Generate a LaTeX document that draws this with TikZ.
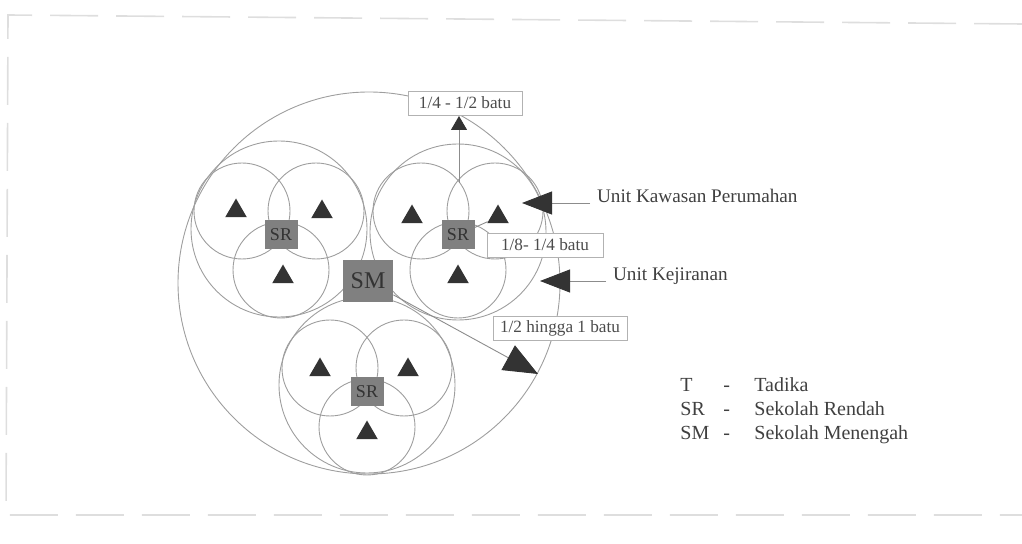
\documentclass[tikz,border=0pt]{standalone}
\usepackage{fontspec}
\setmainfont{Liberation Serif}
\usetikzlibrary{arrows.meta,shapes.geometric}

\begin{document}
\begin{tikzpicture}[x=0.5pt,y=-0.5pt]

	\tikzset{ring/.style = {draw=black!38, line width=0.45pt}}
	\tikzset{tadika/.style = {regular polygon, regular polygon sides=3, fill=black!80, inner sep=0pt, minimum size=12.5pt}}
	\tikzset{sekolah/.style = {shape=rectangle, fill=black!50, text=black!80, inner sep=0pt}}
	\tikzset{rendah/.style = {sekolah, minimum width=16.5pt, minimum height=14.5pt, font=\fontsize{9}{10}\selectfont}}
	\tikzset{menengah/.style = {sekolah, minimum width=25pt, minimum height=21pt, font=\fontsize{12}{13}\selectfont}}
	\tikzset{jarak/.style = {shape=rectangle, draw=black!30, fill=white, text=black!70, font=\fontsize{8.6}{10}\selectfont, minimum height=12pt, inner sep=2pt}}
	\tikzset{unit/.style = {anchor=base west, text=black!75, font=\fontsize{9.6}{11}\selectfont}}
	\tikzset{garis/.style = {draw=black!45, line width=0.45pt}}
	\tikzset{panah/.style = {garis, -{Triangle[length=15pt, width=11.5pt, color=black!80]}}}

	\useasboundingbox (0,0) rectangle (1022,544);
	\draw[black!13, line width=0.8pt, dash pattern=on 24pt off 9pt] (1022,24) -- (8,15) -- (6,515) -- (1022,515);

	% bulatan besar
	\draw[ring] (369,283) circle (95.5pt);

	% unit kejiranan
	\draw[ring] (279,229) circle (44pt);
	\draw[ring] (458,232) circle (44pt);
	\draw[ring] (367,385) circle (44pt);

	% unit kawasan perumahan
	\draw[ring] (242,211) circle (24pt);
	\draw[ring] (316,211) circle (24pt);
	\draw[ring] (281,270) circle (24pt);
	\draw[ring] (421,211) circle (24pt);
	\draw[ring] (495,211) circle (24pt);
	\draw[ring] (458,270) circle (24pt);
	\draw[ring] (330,368) circle (24pt);
	\draw[ring] (404,368) circle (24pt);
	\draw[ring] (367,427) circle (24pt);

	\node[rendah] (sr1) at (281,235) {SR};
	\node[rendah] (sr2) at (458,235) {SR};
	\node[rendah] (sr3) at (367,392) {SR};
	\node[menengah] (sm) at (368,281) {SM};

	\node[tadika] (t11) at (236,211) {};
	\node[tadika] (t12) at (322,212) {};
	\node[tadika] (t13) at (283,277) {};
	\node[tadika] (t21) at (412,217) {};
	\node[tadika] (t22) at (498,217) {};
	\node[tadika] (t23) at (458,277) {};
	\node[tadika] (t31) at (320,370) {};
	\node[tadika] (t32) at (408,370) {};
	\node[tadika] (t33) at (367,433) {};

	\node[jarak, minimum width=57pt] (suku) at (465,103) {1/4 - 1/2 batu};
	\node[jarak, minimum width=58pt] (lapan) at (545,245) {1/8- 1/4 batu};
	\node[jarak, minimum width=67pt] (separuh) at (560,328) {1/2 hingga 1 batu};

	\node[unit] (kawasan) at (590,203) {Unit Kawasan Perumahan};
	\node[unit] (kejiranan) at (606,281) {Unit Kejiranan};

	\coordinate (simpang) at (459,183);
	\coordinate (hujung1) at (459,116);
	\coordinate (hujung2) at (522,203);
	\coordinate (hujung3) at (540,281);
	\coordinate (hujung4) at (538,374);

	\draw[garis, -{Triangle[length=7pt, width=8pt, color=black!80]}] (simpang) -- (hujung1);
	\draw[garis] (sr2) -- (t22);
	\draw[panah] (kawasan.base west) -- (hujung2);
	\draw[panah] (kejiranan.base west) -- (hujung3);
	\draw[panah, -{Triangle[length=17pt, width=14pt, color=black!80]}] (sm) -- (hujung4);

	\node[anchor=north west, inner sep=0pt, text=black!75, font=\fontsize{10}{12}\selectfont] (petunjuk) at (680,374)
		{\begin{tabular}{@{}p{21.5pt}@{}p{15.5pt}@{}l@{}}
		T & - & Tadika\\
		SR & - & Sekolah Rendah\\
		SM & - & Sekolah Menengah
		\end{tabular}};
\end{tikzpicture}
\end{document}
